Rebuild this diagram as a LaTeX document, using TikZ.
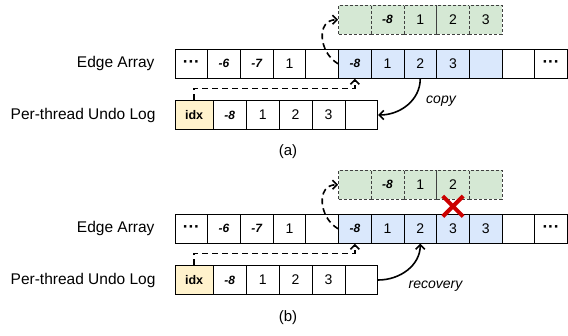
\documentclass[tikz,border=0pt]{standalone}
\usepackage{fontspec}
\setmainfont{Liberation Sans}
\usetikzlibrary{arrows.meta}
\definecolor{eablue}{HTML}{DAE8FC}
\definecolor{cpgreen}{HTML}{D5E8D4}
\definecolor{idxyellow}{HTML}{FFF2CC}
\definecolor{xred}{HTML}{CC0000}

\begin{document}
\begin{tikzpicture}
  [x=1pt,y=1pt,
   cl/.style={draw=black,line width=0.8pt,minimum width=32.7pt,minimum height=29pt,inner sep=0pt,font=\fontsize{14}{16}\selectfont},
   ng/.style={cl,font=\fontsize{12}{14}\selectfont\bfseries\itshape},
   dt/.style={cl,font=\fontsize{17}{18}\selectfont\bfseries},
   bl/.style={cl,fill=eablue},
   bng/.style={ng,fill=eablue},
   gr/.style={cl,fill=cpgreen,draw=black!75,dash pattern=on 3pt off 2pt},
   gng/.style={ng,fill=cpgreen,draw=black!75,dash pattern=on 3pt off 2pt},
   ul/.style={cl,minimum width=32.9pt},
   ung/.style={ng,minimum width=32.9pt},
   idxcell/.style={cl,minimum width=38.3pt,fill=idxyellow,font=\fontsize{12.5}{14}\selectfont\bfseries},
   lbl/.style={anchor=east,font=\fontsize{15.5}{18}\selectfont},
   subcap/.style={font=\fontsize{15}{18}\selectfont},
   note/.style={font=\fontsize{14}{16}\selectfont\itshape},
   dsh/.style={line width=1.6pt,dash pattern=on 6pt off 4pt,-{Straight Barb[length=4.5pt,width=9pt]}},
   arr/.style={line width=1.6pt,-{Straight Barb[length=4.5pt,width=9pt]}}]

  \useasboundingbox (0,0) rectangle (568,335);

  % (a) copy
  \node[lbl] (a-eal) at (158,271.2) {Edge Array};
  \node[lbl] (a-ull) at (159,220) {Per-thread Undo Log};

  \foreach \s/\v [count=\i] in {dt/···, ng/-6, ng/-7, cl/1, cl/{}, bng/-8, bl/1, bl/2, bl/3, bl/{}, cl/{}, dt/···}
    \node[\s] (a-ea\i) at ({175+(\i-0.5)*32.7},271.2) {\v};

  \foreach \s/\v [count=\i] in {gr/{}, gng/-8, gr/1, gr/2, gr/3}
    \node[\s] (a-cp\i) at ({175+(\i+4.5)*32.7},315.3) {\v};

  \node[idxcell] (a-idx) at (194.15,220) {idx};
  \foreach \s/\v [count=\i] in {ung/-8, ul/1, ul/2, ul/3, ul/{}}
    \node[\s] (a-ul\i) at ({213.3+(\i-0.5)*32.9},220) {\v};

  \draw[dsh] (a-idx.north) -- ++(0,11.7) -| (a-ea6.south);
  \draw[dsh] (a-ea6.west) to[out=150,in=180,looseness=1.3] (a-cp1.west);
  \draw[arr] (a-ea8.south) to[out=-90,in=0] (a-ul5.east);
  \node[note] (a-copy) at (441,234) {copy};
  \node[subcap] (a-cap) at (288,183) {(a)};

  % (b) recovery
  \node[lbl] (b-eal) at (158,106.2) {Edge Array};
  \node[lbl] (b-ull) at (159,55) {Per-thread Undo Log};

  \foreach \s/\v [count=\i] in {dt/···, ng/-6, ng/-7, cl/1, cl/{}, bng/-8, bl/1, bl/2, bl/3, bl/3, cl/{}, dt/···}
    \node[\s] (b-ea\i) at ({175+(\i-0.5)*32.7},106.2) {\v};

  \foreach \s/\v [count=\i] in {gr/{}, gng/-8, gr/1, gr/2, gr/{}}
    \node[\s] (b-cp\i) at ({175+(\i+4.5)*32.7},150.3) {\v};

  \node[idxcell] (b-idx) at (194.15,55) {idx};
  \foreach \s/\v [count=\i] in {ung/-8, ul/1, ul/2, ul/3, ul/{}}
    \node[\s] (b-ul\i) at ({213.3+(\i-0.5)*32.9},55) {\v};

  \draw[dsh] (b-idx.north) -- ++(0,11.7) -| (b-ea6.south);
  \draw[dsh] (b-ea6.west) to[out=150,in=180,looseness=1.3] (b-cp1.west);
  \draw[arr] (b-ul5.east) to[out=0,in=-90] (b-ea8.south);
  \node[note] (b-rec) at (435.5,49.2) {recovery};
  \node[subcap] (b-cap) at (288,17) {(b)};

  \node[minimum size=20pt,inner sep=0pt] (b-x) at ([yshift=7.6pt]b-ea9.north) {};
  \draw[xred,line width=4pt] (b-x.north west) -- (b-x.south east)
                             (b-x.south west) -- (b-x.north east);
\end{tikzpicture}
\end{document}
